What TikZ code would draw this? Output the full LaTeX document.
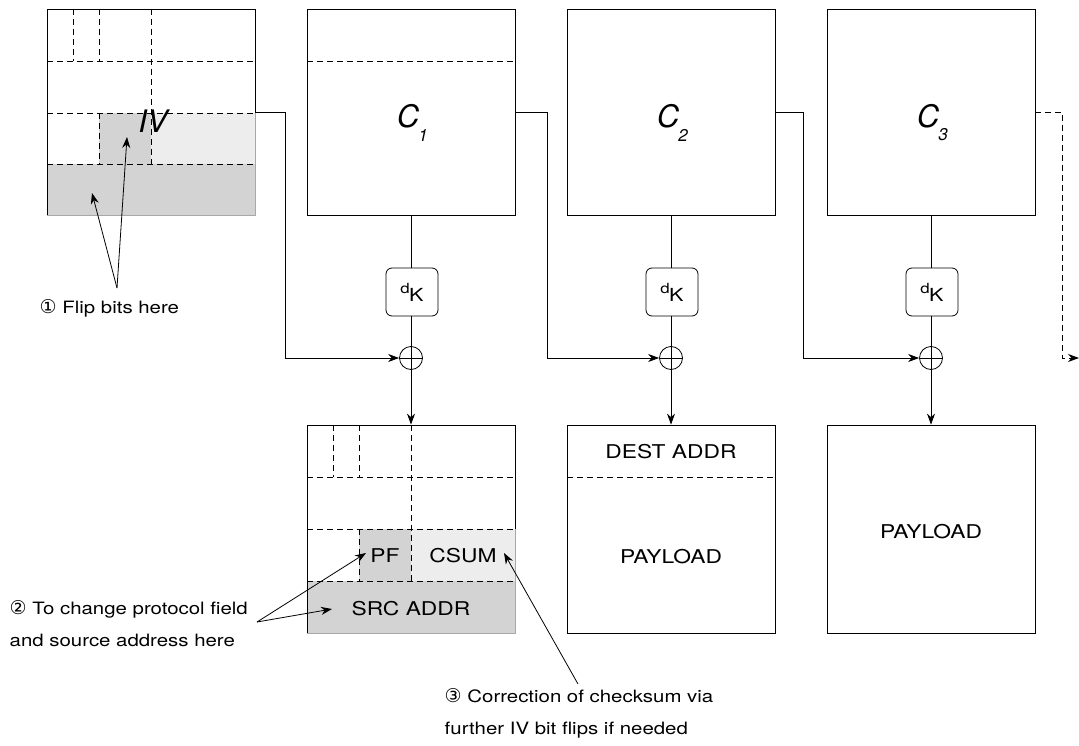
\documentclass[tikz,border=0pt]{standalone}
\usepackage{fontspec}
\setmainfont{TeX Gyre Heros}[FakeStretch=1.2]
\newfontfamily\bigfont{TeX Gyre Heros}
\newfontfamily\circfont{DejaVu Sans}
\usetikzlibrary{arrows.meta}

\definecolor{darkfield}{HTML}{D3D3D3}
\definecolor{lightfield}{HTML}{EDEDED}
\definecolor{edgegray}{HTML}{A8A8A8}

\tikzset{
  block/.style={draw, minimum width=208pt, minimum height=206pt, inner sep=0pt},
  dec/.style={draw, rounded corners=6pt, minimum width=52pt, minimum height=48pt, inner sep=0pt},
  xor/.style={circle, draw, minimum size=23pt, inner sep=0pt,
    path picture={\draw (path picture bounding box.north) -- (path picture bounding box.south)
      (path picture bounding box.west) -- (path picture bounding box.east);}},
  arr/.style={-{Stealth[length=11pt,width=8pt]}},
  sep/.style={dashed, dash pattern=on 6pt off 4pt},
  big/.style={font=\bigfont\fontsize{31}{31}\selectfont\itshape, inner sep=0pt},
  sub/.style={font=\bigfont\fontsize{17}{17}\selectfont\itshape, inner sep=0pt},
  field/.style={font=\fontsize{19}{19}\selectfont},
  note/.style={font=\fontsize{17}{32}\selectfont, align=left, anchor=west}
}

\newcommand{\dK}{{\fontsize{14}{14}\selectfont\raisebox{8pt}{d}}\kern-0.5pt{\fontsize{18}{18}\selectfont K}}

\begin{document}
\begin{tikzpicture}[x=1pt,y=-1pt,line width=0.8pt]
\useasboundingbox (0,0) rectangle (1079,746);

% IV block
\fill[darkfield] (99,113) rectangle (151,164);
\fill[lightfield] (151,113) rectangle (255,164);
\fill[darkfield] (47,164) rectangle (255,215);
\node[minimum width=208pt, minimum height=206pt] (iv) at (151,112) {};
\draw (47,215) -- (47,9) -- (255,9) -- (255,113);
\draw[edgegray] (255,113) -- (255,215) -- (47,215);
\draw[sep] (47,61) -- (255,61) (47,113) -- (255,113) (47,164) -- (255,164);
\draw[sep] (73,9) -- (73,61) (99,9) -- (99,61) (151,9) -- (151,164) (99,113) -- (99,164);
\node[big] (ivlabel) at (153,121) {IV};

% ciphertext blocks
\node[block] (c1) at (411,112) {};
\node[block] (c2) at (671,112) {};
\node[block] (c3) at (931,112) {};
\draw[sep] (307,61) -- (515,61);
\node[big] (c1name) at (408,116) {C};
\node[sub] (c1idx) at (423,135) {1};
\node[big] (c2name) at (668,116) {C};
\node[sub] (c2idx) at (683,135) {2};
\node[big] (c3name) at (928,116) {C};
\node[sub] (c3idx) at (943,135) {3};

% decryption and xor
\node[dec] (d1) at (412,292) {\dK};
\node[dec] (d2) at (672,292) {\dK};
\node[dec] (d3) at (932,292) {\dK};
\node[xor] (x1) at (411,358) {};
\node[xor] (x2) at (671,358) {};
\node[xor] (x3) at (931,358) {};
\coordinate (next) at (1079,358);

\draw (c1.south) -- (c1.south |- d1.north) (c1.south |- d1.south) -- (x1.north);
\draw (c2.south) -- (c2.south |- d2.north) (c2.south |- d2.south) -- (x2.north);
\draw (c3.south) -- (c3.south |- d3.north) (c3.south |- d3.south) -- (x3.north);

\draw[arr] (iv.east) -- ++(30,0) |- (x1);
\draw[arr] (c1.east) -- ++(32,0) |- (x2);
\draw[arr] (c2.east) -- ++(28,0) |- (x3);
\draw[arr, sep] (c3.east) -- ++(27,0) |- (next);

% plaintext blocks
\fill[darkfield] (359,529) rectangle (411,581);
\fill[lightfield] (411,529) rectangle (515,581);
\fill[darkfield] (307,581) rectangle (515,633);
\node[minimum width=208pt, minimum height=208pt] (p1) at (411,529) {};
\draw (307,633) -- (307,425) -- (515,425) -- (515,529);
\draw[edgegray] (515,529) -- (515,633) -- (307,633);
\draw[sep] (307,477) -- (515,477) (307,529) -- (515,529) (307,581) -- (515,581);
\draw[sep] (333,425) -- (333,477) (359,425) -- (359,477) (411,425) -- (411,581) (359,529) -- (359,581);
\node[field] (pf) at (385,556) {PF};
\node[field] (csum) at (463,556) {CSUM};
\node[field] (src) at (411,609) {SRC\,\,ADDR};

\node[block, minimum height=208pt] (p2) at (671,529) {};
\draw[sep] (567,477) -- (775,477);
\node[field] (dest) at (671,452) {DEST\,\,ADDR};
\node[field] (pay2) at (671,557) {PAYLOAD};

\node[block, minimum height=208pt] (p3) at (931,529) {};
\node[field] (pay3) at (931,532) {PAYLOAD};

\draw[arr] (x1.south) -- (p1.north);
\draw[arr] (x2.south) -- (p2.north);
\draw[arr] (x3.south) -- (p3.north);

% notes
\node[note] (n1) at (36,308) {{\circfont\fontsize{19}{19}\selectfont ①} Flip bits here};
\coordinate (n1tip) at (117,288);
\draw[arr] (n1tip) -- (92,193);
\draw[arr] (n1tip) -- (127,137);

\node[note] (n2) at (6,624) {{\circfont\fontsize{19}{19}\selectfont ②} To change protocol field\\and source address here};
\coordinate (n2tip) at (257,622);
\draw[arr] (n2tip) -- (366,553);
\draw[arr] (n2tip) -- (332,609);

\node[note] (n3) at (441,713) {{\circfont\fontsize{19}{19}\selectfont ③} Correction of checksum via\\further IV bit flips if needed};
\coordinate (n3tip) at (578,684);
\draw[arr] (n3tip) -- (504,553);
\end{tikzpicture}
\end{document}
